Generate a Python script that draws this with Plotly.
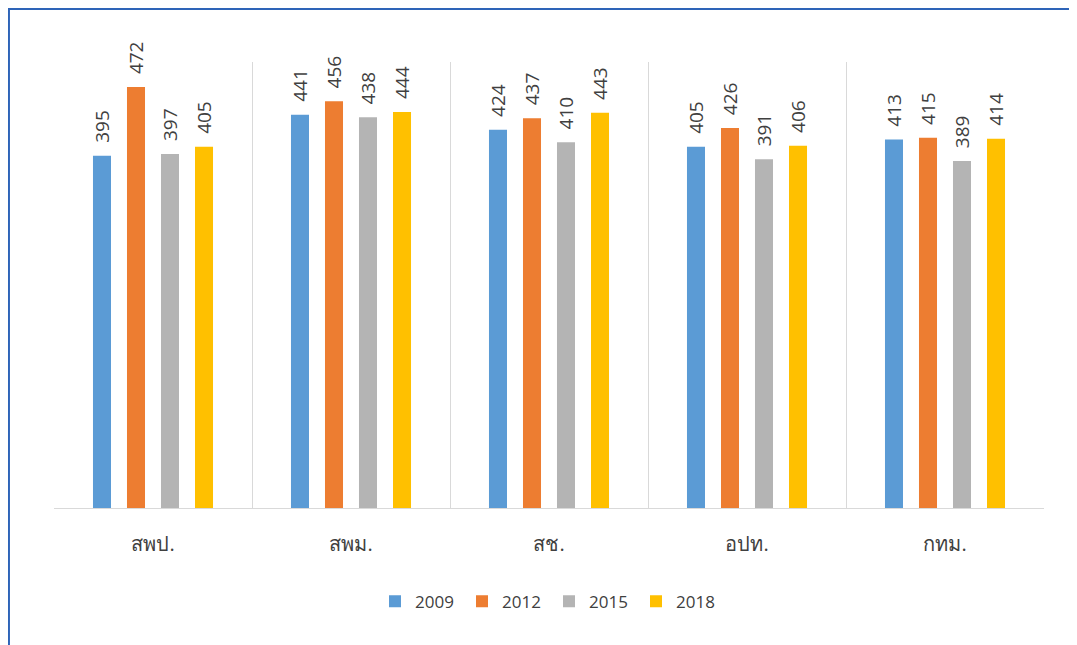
import plotly.graph_objects as go

categories = ["สพป.", "สพม.", "สช.", "อปท.", "กทม."]
years = ["2009", "2012", "2015", "2018"]
v2009 = [395, 441, 424, 405, 413]
v2012 = [472, 456, 437, 426, 415]
v2015 = [397, 438, 410, 391, 389]
v2018 = [405, 444, 443, 406, 414]
series = [v2009, v2012, v2015, v2018]
colors = ["#5B9BD5", "#ED7D31", "#B4B4B4", "#FFC000"]

fig = go.Figure()
for name, vals, c in zip(years, series, colors):
    fig.add_trace(go.Bar(
        x=categories, y=vals, name=name, marker_color=c,
        marker_line_width=0,
        texttemplate="\u00a0\u00a0%{y}", textposition="outside",
        textangle=-90, cliponaxis=False, constraintext="none",
        textfont=dict(size=19, color="#404040", family="Open Sans"),
    ))

# page body has an 8px margin, so the figure is offset by 8px
fig.update_layout(
    width=1069, height=637,
    margin=dict(l=46, r=33, t=54, b=137),
    paper_bgcolor="white", plot_bgcolor="white",
    barmode="group", bargap=0.313, bargroupgap=0.47,
    font=dict(family="Open Sans", color="#404040"),
    showlegend=True,
    legend=dict(orientation="h", x=0.5, xanchor="center", y=-0.21, yanchor="middle",
                font=dict(size=17, color="#404040"), entrywidth=42, entrywidthmode="pixels",
                traceorder="normal"),
    xaxis=dict(type="category", tickson="boundaries", showgrid=True, gridcolor="#D9D9D9",
               gridwidth=1, ticks="", showline=True, linecolor="#D9D9D9", linewidth=1,
               tickfont=dict(size=20, color="#404040"), ticklabelstandoff=18),
    yaxis=dict(range=[0, 500], showgrid=False, showticklabels=False, zeroline=False,
               showline=False, ticks=""),
)
fig.add_shape(type="rect", xref="paper", yref="paper",
              x0=-0.0455, x1=1.2, y0=-0.6, y1=1.119,
              line=dict(color="#2E64B8", width=2), fillcolor="rgba(0,0,0,0)", layer="above")
fig.write_html("out.html")
